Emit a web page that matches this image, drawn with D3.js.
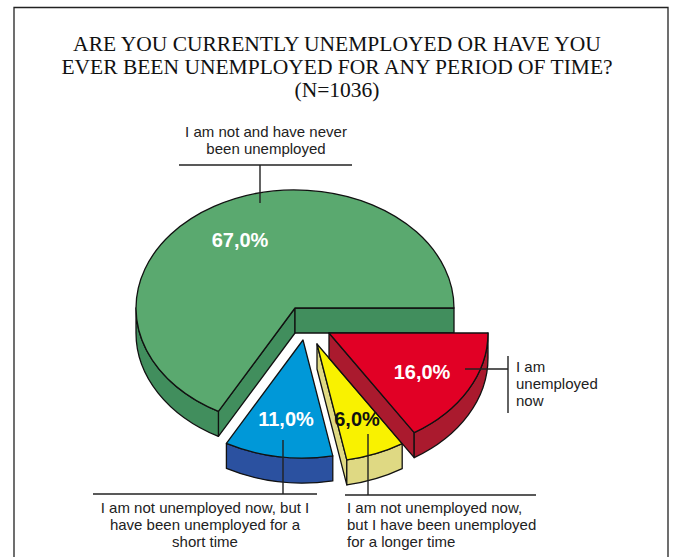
<!DOCTYPE html>
<html>
<head>
<meta charset="utf-8">
<script src="https://cdn.jsdelivr.net/npm/d3@7"></script>
<style>
  html, body { margin: 0; padding: 0; background: #fff; }
  svg { display: block; }
  .title { font-family: "Liberation Serif", serif; font-size: 21.5px; fill: #111; text-anchor: middle; }
  .note { font-family: "Liberation Sans", sans-serif; font-size: 15px; fill: #222; }
  .pct { font-family: "Liberation Sans", sans-serif; font-size: 20px; font-weight: bold; text-anchor: middle; }
</style>
</head>
<body>
<svg id="chart" width="675" height="557"></svg>
<script>
// Survey responses, clockwise from the east side of the pie
const categories = ["unemployed now", "longer time", "short time", "never"];
const shares = [16, 6, 11, 67];
const shareLabels = ["16,0%", "6,0%", "11,0%", "67,0%"];
const titleLines = [
  "ARE YOU CURRENTLY UNEMPLOYED OR HAVE YOU",
  "EVER BEEN UNEMPLOYED FOR ANY PERIOD OF TIME?",
  "(N=1036)"
];
const topColors = ["#e10025", "#f9f200", "#0098d8", "#5aa96f"];
const sideColors = ["#aa1a2e", "#dfd983", "#2b51a0", "#418e5d"];
const labelColors = ["#fff", "#111", "#fff", "#fff"];

// Pie geometry
const rx = 159, ry = 118, depth = 25;
const centre = { x: 295, y: 308 };
const explode = [[34, 25], [22, 36], [8, 32], [0, 0]];
const labelPos = [[422, 379], [357, 426], [286, 426], [240, 247]];

const svg = d3.select("#chart");

// Page frame runs off the bottom edge
svg.append("path")
  .attr("d", "M14,560V7.5H668V560")
  .attr("fill", "none").attr("stroke", "#222").attr("stroke-width", 1.3);

svg.selectAll("text.title").data(titleLines).join("text")
  .attr("class", "title")
  .attr("x", 337)
  .attr("y", (d, i) => 51 + i * 23)
  .text(d => d);

const pie = d3.pie().sort(null).startAngle(Math.PI / 2).endAngle(Math.PI * 2.5);
const slices = pie(shares);

// Map a pie angle (clockwise from north) onto the tilted ellipse
const pt = (c, a, dy = 0) => [c.x + rx * Math.sin(a), c.y - ry * Math.cos(a) + dy];
const arcTo = (c, a, dy, sweep, large) => {
  const p = pt(c, a, dy);
  return `A${rx},${ry} 0 ${large ? 1 : 0} ${sweep} ${p[0]},${p[1]}`;
};

const slicePath = (c, a0, a1) => {
  const s = pt(c, a0);
  return `M${c.x},${c.y}L${s[0]},${s[1]}` + arcTo(c, a1, 0, 1, a1 - a0 > Math.PI) + "Z";
};
const radialFace = (c, a) => {
  const p = pt(c, a);
  return `M${c.x},${c.y}L${p[0]},${p[1]}v${depth}L${c.x},${c.y + depth}Z`;
};
// Rim between the top arc and the same arc shifted down, lower half only
const rimPath = (c, a0, a1) => {
  const from = Math.max(a0, Math.PI / 2), to = Math.min(a1, Math.PI * 1.5);
  if (to <= from) return null;
  const s = pt(c, from);
  return `M${s[0]},${s[1]}` + arcTo(c, to, 0, 1, false) + `v${depth}` + arcTo(c, from, depth, 0, false) + "Z";
};

const order = [3, 2, 1, 0];
const groups = svg.selectAll("g.slice").data(order).join("g")
  .attr("class", "slice")
  .attr("stroke", "#111").attr("stroke-width", 1.3).attr("stroke-linejoin", "round");

groups.each(function (idx) {
  const g = d3.select(this), d = slices[idx];
  const c = { x: centre.x + explode[idx][0], y: centre.y + explode[idx][1] };
  const faces = [];
  if (Math.sin(d.startAngle) < 0) faces.push(radialFace(c, d.startAngle));
  if (Math.sin(d.endAngle) > 0) faces.push(radialFace(c, d.endAngle));
  const rim = rimPath(c, d.startAngle, d.endAngle);
  if (rim) faces.push(rim);
  faces.forEach(f => g.append("path").attr("d", f).attr("fill", sideColors[idx]));
  g.append("path").attr("d", slicePath(c, d.startAngle, d.endAngle)).attr("fill", topColors[idx]);
});

// Leader lines from slices to their captions
const leaders = [
  [179, 165, 352, 165], [260, 165, 260, 203],
  [508, 356, 508, 413], [465, 369, 508, 369],
  [93, 494, 317, 494], [283, 440, 283, 494],
  [345, 495, 536, 495], [368, 434, 368, 495]
];
svg.selectAll("line.leader").data(leaders).join("line")
  .attr("class", "leader")
  .attr("x1", d => d[0]).attr("y1", d => d[1]).attr("x2", d => d[2]).attr("y2", d => d[3])
  .attr("stroke", "#222").attr("stroke-width", 1.4);

svg.selectAll("text.pct").data(shareLabels).join("text")
  .attr("class", "pct")
  .attr("x", (d, i) => labelPos[i][0])
  .attr("y", (d, i) => labelPos[i][1])
  .attr("fill", (d, i) => labelColors[i])
  .text(d => d);

// Captions: [x, anchor, first baseline, lines]
const captions = [
  [266, "middle", 137, ["I am not and have never", "been unemployed"]],
  [516, "start", 372, ["I am", "unemployed", "now"]],
  [205, "middle", 513, ["I am not unemployed now, but I", "have been unemployed for a", "short time"]],
  [347, "start", 513, ["I am not unemployed now,", "but I have been unemployed", "for a longer time"]]
];
captions.forEach(([x, anchor, y0, lines]) => {
  svg.append("g").selectAll("text").data(lines).join("text")
    .attr("class", "note")
    .attr("x", x)
    .attr("y", (d, i) => y0 + i * 17)
    .attr("text-anchor", anchor)
    .text(d => d);
});
</script>
</body>
</html>
